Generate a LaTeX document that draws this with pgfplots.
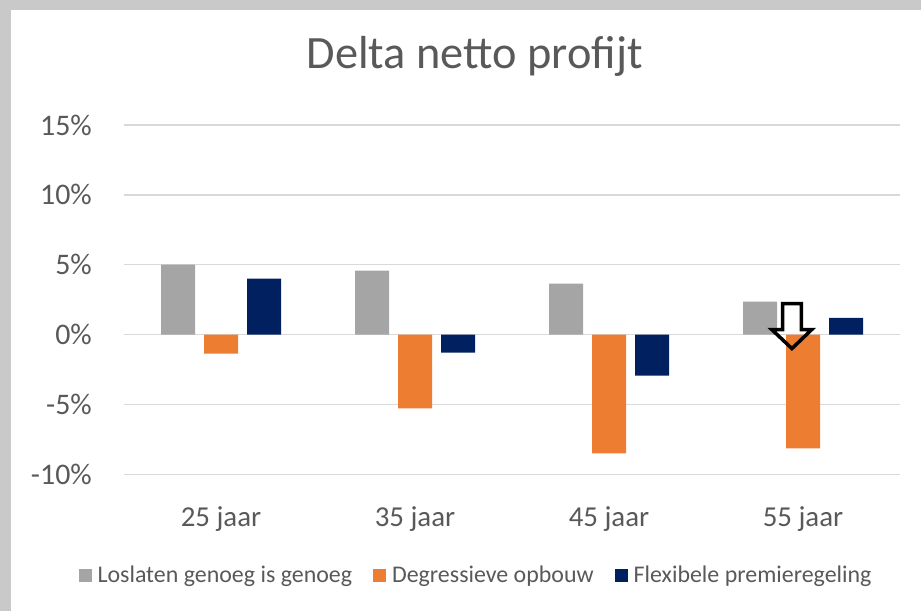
\documentclass[border=0pt]{standalone}
\usepackage{pgfplots}
\pgfplotsset{compat=1.18}
\usepackage{fontspec}
\setmainfont{Carlito}

\definecolor{txtgray}{HTML}{595959}
\definecolor{gridgray}{HTML}{D9D9D9}
\definecolor{framegray}{HTML}{C9C9C9}
\definecolor{cgray}{HTML}{A5A5A5}
\definecolor{corange}{HTML}{ED7D31}
\definecolor{cnavy}{HTML}{002060}

\begin{document}
\begin{tikzpicture}
\path[use as bounding box] (0bp,0bp) rectangle (921bp,611bp);
% shadow frame on top and left
\fill[framegray] (0bp,601bp) rectangle (921bp,611bp);
\fill[framegray] (0bp,0bp) rectangle (11bp,611bp);

\begin{axis}[
    at={(124bp,136.7bp)}, anchor=south west,
    scale only axis,
    width=776bp, height=349.3bp,
    ybar=9bp, bar width=34bp,
    xmin=-0.5, xmax=3.5,
    ymin=-10, ymax=15,
    xtick={0,1,2,3},
    xticklabels={25 jaar,35 jaar,45 jaar,55 jaar},
    ytick={-10,-5,0,5,10,15},
    yticklabels={-10\%,-5\%,0\%,5\%,10\%,15\%},
    axis line style={draw=none},
    major tick length=0pt,
    ymajorgrids,
    grid style={gridgray, line width=1.3bp},
    yticklabel style={font=\fontsize{30}{30}\selectfont, text=txtgray, inner sep=0pt, anchor=east, xshift=-32bp},
    xticklabel style={font=\fontsize{29}{29}\selectfont, text=txtgray, inner sep=0pt, anchor=base, yshift=-51.7bp},
    title={Delta netto profijt},
    title style={font=\fontsize{46.5}{46.5}\selectfont, text=txtgray, at={(0.452,1)}, anchor=base, yshift=51bp, inner sep=0pt},
    legend columns=3,
    legend style={at={(0.4523,0)}, anchor=center, yshift=-100.7bp, draw=none,
        font=\fontsize{24}{24}\selectfont, text=txtgray,
        nodes={inner xsep=0pt},
        /tikz/every even column/.append style={column sep=21bp}},
    legend image code/.code={%
        \path[#1,draw=none] (0bp,-6.5bp) rectangle (13bp,6.5bp);
        \path (19bp,0bp);},
  ]
  \addplot[fill=cgray, draw=none] coordinates {(0,5.0) (1,4.57) (2,3.64) (3,2.36)};
  \addlegendentry{Loslaten genoeg is genoeg}
  \addplot[fill=corange, draw=none] coordinates {(0,-1.36) (1,-5.29) (2,-8.5) (3,-8.14)};
  \addlegendentry{Degressieve opbouw}
  \addplot[fill=cnavy, draw=none] coordinates {(0,4.0) (1,-1.29) (2,-2.93) (3,1.19)};
  \addlegendentry{Flexibele premieregeling}

  % hollow down arrow annotation at 55 jaar
  \draw[black, line width=3.5bp, line join=miter]
    (axis cs:2.895,2.22) -- (axis cs:2.991,2.22) -- (axis cs:2.991,0.36)
    -- (axis cs:3.045,0.36) -- (axis cs:2.943,-1.0) -- (axis cs:2.839,0.36)
    -- (axis cs:2.895,0.36) -- cycle;
\end{axis}
\end{tikzpicture}
\end{document}
